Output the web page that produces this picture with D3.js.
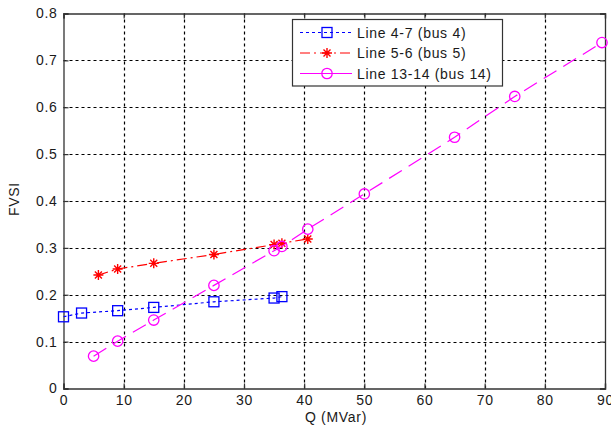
<!DOCTYPE html>
<html>
<head>
<meta charset="utf-8">
<script src="https://cdn.jsdelivr.net/npm/d3@7/dist/d3.min.js"></script>
<style>
  html, body { margin: 0; padding: 0; background: #fff; }
  svg { display: block; font-family: "Liberation Sans", Arial, sans-serif; }
</style>
</head>
<body>
<svg id="chart" width="611" height="430"></svg>
<script>
// FVSI versus reactive load Q for three monitored lines
const xTicks = [0, 10, 20, 30, 40, 50, 60, 70, 80, 90];
const yTicks = [0, 0.1, 0.2, 0.3, 0.4, 0.5, 0.6, 0.7, 0.8];

const line47Q = [0, 3, 9, 15, 25, 35, 36.3];
const line47FVSI = [0.153, 0.161, 0.166, 0.173, 0.185, 0.193, 0.196];

const line56Q = [5.8, 9, 15, 25, 35, 36.3, 40.6];
const line56FVSI = [0.242, 0.255, 0.267, 0.286, 0.307, 0.310, 0.319];

const line1314Q = [5, 9, 15, 25, 35, 36.3, 40.6, 50, 65, 75, 89.5];
const line1314FVSI = [0.069, 0.101, 0.146, 0.220, 0.294, 0.303, 0.340, 0.415, 0.536, 0.623, 0.738];

const seriesNames = ["Line 4-7 (bus 4)", "Line 5-6 (bus 5)", "Line 13-14 (bus 14)"];

const series = [
  { name: seriesNames[0], q: line47Q, v: line47FVSI, color: "#0000ff", dash: "3,3", marker: "square" },
  { name: seriesNames[1], q: line56Q, v: line56FVSI, color: "#ff0000", dash: "10,4,2,4", marker: "star" },
  { name: seriesNames[2], q: line1314Q, v: line1314FVSI, color: "#ff00ff", dash: "15,8", marker: "circle" }
];

const svg = d3.select("#chart");
const plotLeft = 63.5, plotRight = 605, plotTop = 13.5, plotBottom = 388.5;

const x = d3.scaleLinear().domain([0, 90]).range([plotLeft, plotRight]);
const y = d3.scaleLinear().domain([0, 0.8]).range([plotBottom, plotTop]);

const axisColor = "#333";
const textColor = "#1a1a1a";
const fontSize = "14px";
const spacing = "0.7px";

// grid
const grid = svg.append("g");
xTicks.slice(1, -1).forEach(t => {
  grid.append("line")
    .attr("x1", Math.round(x(t)) + 0.5).attr("x2", Math.round(x(t)) + 0.5)
    .attr("y1", plotTop).attr("y2", plotBottom)
    .attr("stroke", "#000").attr("stroke-width", 1.2).attr("stroke-dasharray", "3,3");
});
yTicks.slice(1, -1).forEach(t => {
  grid.append("line")
    .attr("y1", Math.round(y(t)) + 0.5).attr("y2", Math.round(y(t)) + 0.5)
    .attr("x1", plotLeft).attr("x2", plotRight)
    .attr("stroke", "#000").attr("stroke-width", 1.2).attr("stroke-dasharray", "3,3");
});

// axes with inward ticks, mirrored on top and right
const xAxisB = d3.axisBottom(x).tickValues(xTicks).tickSize(-5).tickPadding(7).tickFormat(d3.format("d"));
const xAxisT = d3.axisTop(x).tickValues(xTicks).tickSize(-5).tickFormat("");
const yAxisL = d3.axisLeft(y).tickValues(yTicks).tickSize(-5).tickPadding(6).tickFormat(d => d === 0 ? "0" : d3.format(".1f")(d));
const yAxisR = d3.axisRight(y).tickValues(yTicks).tickSize(-5).tickFormat("");

function styleAxis(g) {
  g.select(".domain").attr("stroke", axisColor).attr("stroke-width", 1.3);
  g.selectAll(".tick line").attr("stroke", axisColor).attr("stroke-width", 1.2);
  g.selectAll(".tick text").attr("fill", textColor).style("font-size", fontSize)
    .style("letter-spacing", spacing)
    .style("font-family", "'Liberation Sans', Arial, sans-serif");
}

svg.append("g").attr("transform", `translate(0,${plotBottom})`).call(xAxisB).call(styleAxis);
svg.append("g").attr("transform", `translate(0,${plotTop})`).call(xAxisT).call(styleAxis);
svg.append("g").attr("transform", `translate(${plotLeft},0)`).call(yAxisL).call(styleAxis);
svg.append("g").attr("transform", `translate(${plotRight},0)`).call(yAxisR).call(styleAxis);

// axis labels
svg.append("text").attr("x", 336).attr("y", 422)
  .attr("text-anchor", "middle").attr("fill", textColor).style("font-size", fontSize)
  .style("letter-spacing", spacing)
  .text("Q (MVar)");
svg.append("text").attr("transform", `translate(19,199) rotate(-90)`)
  .attr("text-anchor", "middle").attr("fill", textColor).style("font-size", fontSize)
  .style("letter-spacing", spacing)
  .text("FVSI");

// markers
function drawMarker(g, type, cx, cy, color) {
  if (type === "square") {
    g.append("rect").attr("x", cx - 5).attr("y", cy - 5).attr("width", 10).attr("height", 10)
      .attr("fill", "none").attr("stroke", color).attr("stroke-width", 1.3);
  } else if (type === "circle") {
    g.append("circle").attr("cx", cx).attr("cy", cy).attr("r", 5.2)
      .attr("fill", "none").attr("stroke", color).attr("stroke-width", 1.3);
  } else if (type === "star") {
    const r = 5;
    const d = `M${cx - r},${cy}L${cx + r},${cy}M${cx},${cy - r}L${cx},${cy + r}` +
      `M${cx - r * 0.7},${cy - r * 0.7}L${cx + r * 0.7},${cy + r * 0.7}` +
      `M${cx - r * 0.7},${cy + r * 0.7}L${cx + r * 0.7},${cy - r * 0.7}`;
    g.append("path").attr("d", d).attr("stroke", color).attr("stroke-width", 1.4).attr("fill", "none");
  }
}

const plot = svg.append("g");
const lineGen = d3.line().x(d => x(d[0])).y(d => y(d[1]));

series.forEach(s => {
  const pts = s.q.map((q, i) => [q, s.v[i]]);
  plot.append("path").datum(pts).attr("d", lineGen)
    .attr("fill", "none").attr("stroke", s.color).attr("stroke-width", 1.2)
    .attr("stroke-dasharray", s.dash);
  const mg = plot.append("g");
  pts.forEach(p => drawMarker(mg, s.marker, x(p[0]), y(p[1]), s.color));
});

// legend
const lg = svg.append("g");
lg.append("rect").attr("x", 292.5).attr("y", 19.5).attr("width", 210).attr("height", 66.5)
  .attr("fill", "#fff").attr("stroke", axisColor).attr("stroke-width", 1.2);
series.forEach((s, i) => {
  const cy = 32.5 + i * 20.5;
  lg.append("line").attr("x1", 300).attr("x2", 352).attr("y1", cy).attr("y2", cy)
    .attr("stroke", s.color).attr("stroke-width", 1.2)
    .attr("stroke-dasharray", i === 2 ? null : s.dash);
  drawMarker(lg, s.marker, 327, cy, s.color);
  lg.append("text").attr("x", 357).attr("y", cy + 5).attr("fill", textColor)
    .style("font-size", fontSize).style("letter-spacing", spacing).text(s.name);
});
</script>
</body>
</html>
